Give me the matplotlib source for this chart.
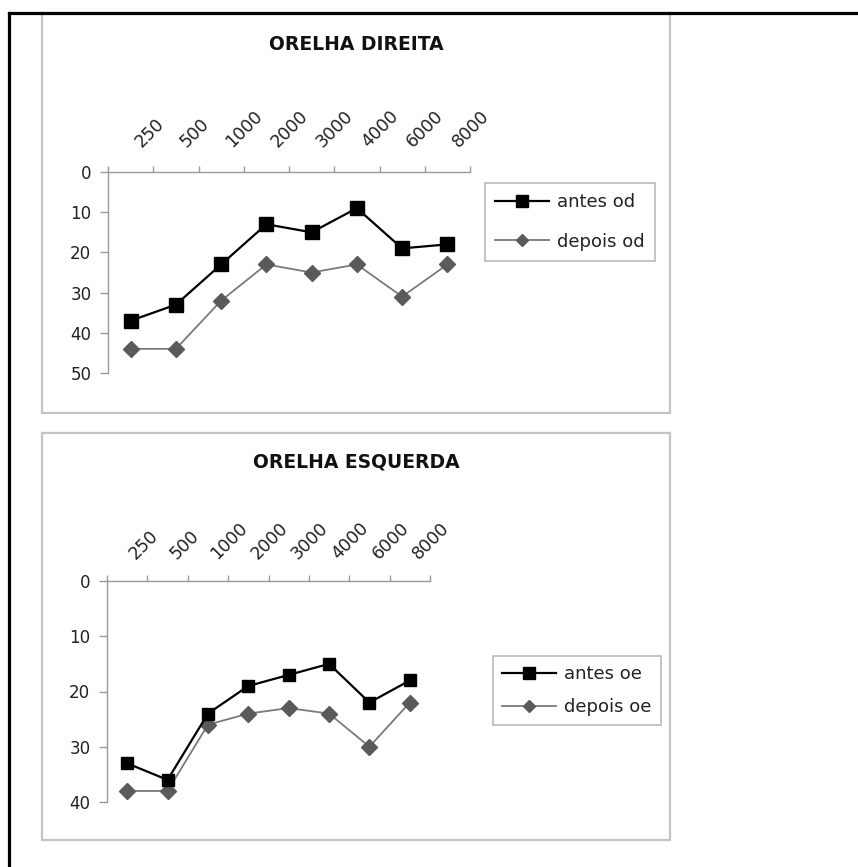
import matplotlib
matplotlib.use('Agg')
import matplotlib.pyplot as plt
from matplotlib.lines import Line2D
from matplotlib.patches import Rectangle
import matplotlib.transforms as mtransforms

plt.rcParams['font.family'] = ['DejaVu Sans']

# ---- data ----
freqs = ['250', '500', '1000', '2000', '3000', '4000', '6000', '8000']
antes_od = [37, 33, 23, 13, 15, 9, 19, 18]
depois_od = [44, 44, 32, 23, 25, 23, 31, 23]
antes_oe = [33, 36, 24, 19, 17, 15, 22, 18]
depois_oe = [38, 38, 26, 24, 23, 24, 30, 22]
yticks_od = [0, 10, 20, 30, 40, 50]
yticks_oe = [0, 10, 20, 30, 40]

W, H = 858, 867
fig = plt.figure(figsize=(W / 100, H / 100), dpi=100)


def fx(px):
    return px / W


def fy(py):
    return 1 - py / H


AX_GRAY = '#9a9a9a'
DEP_LINE = '#7a7a7a'
DEP_MARK = '#5a5a5a'

# panels
for (x0, y0, x1, y1) in [(42, 13, 670, 413), (42, 433, 670, 840)]:
    fig.add_artist(Rectangle((fx(x0), fy(y1)), fx(x1) - fx(x0), fy(y0) - fy(y1),
                             transform=fig.transFigure, fill=False,
                             edgecolor='#c4c4c4', lw=1.6, zorder=1))

# outer black border (top & left)
fig.add_artist(Line2D([fx(9), 1], [fy(13), fy(13)], color='black', lw=2.3,
                      transform=fig.transFigure, zorder=5))
fig.add_artist(Line2D([fx(9), fx(9)], [fy(13), 0], color='black', lw=2.3,
                      transform=fig.transFigure, zorder=5))


def panel(box, ymax, yticks, antes, depois, title, title_y, lab_a, lab_d,
          lbl_off, leg_xy, leg_spacing, msq, mdi, bpad):
    x0, y0, x1, y1 = box
    ax = fig.add_axes([fx(x0), fy(y1), fx(x1) - fx(x0), fy(y0) - fy(y1)])
    x = list(range(len(freqs)))
    ax.plot(x, depois, color=DEP_LINE, lw=1.3, marker='D', ms=mdi,
            mfc=DEP_MARK, mec=DEP_MARK, zorder=3)
    ax.plot(x, antes, color='black', lw=1.6, marker='s', ms=msq,
            mfc='black', mec='black', zorder=4)
    ax.set_xlim(-0.5, len(freqs) - 0.5)
    ax.set_ylim(ymax, 0)
    for s in ['right', 'bottom']:
        ax.spines[s].set_visible(False)
    for s in ['top', 'left']:
        ax.spines[s].set_color(AX_GRAY)
        ax.spines[s].set_linewidth(1.0)
    ax.xaxis.tick_top()
    ax.set_xticks([])
    ax.set_xticks([i - 0.5 for i in range(len(freqs) + 1)], minor=True)
    ax.tick_params(axis='x', which='minor', direction='out', length=4,
                   color=AX_GRAY, width=1.0, top=True, bottom=False)
    ax.set_yticks(yticks)
    ax.set_yticklabels([str(t) for t in yticks])
    ax.tick_params(axis='y', direction='out', length=6, color=AX_GRAY,
                   width=1.0, pad=6, labelsize=12, labelcolor='#222222')
    off = mtransforms.ScaledTranslation(lbl_off[0] / 100, lbl_off[1] / 100,
                                        fig.dpi_scale_trans)
    for i, lab in enumerate(freqs):
        ax.text(i, 0, lab, transform=ax.transData + off, rotation=45,
                rotation_mode='anchor', ha='left', va='baseline',
                fontsize=12.5, color='#222222', clip_on=False)
    fig.text(fx(356), fy(title_y), title, ha='center', va='center',
             fontsize=13.5, fontweight='bold', color='#111111')
    h_a = Line2D([], [], color='black', lw=1.6, marker='s', ms=msq - 0.5,
                 mfc='black', mec='black')
    h_d = Line2D([], [], color=DEP_LINE, lw=1.3, marker='D', ms=mdi - 2.5,
                 mfc=DEP_MARK, mec=DEP_MARK)
    leg = fig.legend([h_a, h_d], [lab_a, lab_d], loc='upper left',
                     bbox_to_anchor=(fx(leg_xy[0]), fy(leg_xy[1])),
                     fontsize=13, frameon=True, fancybox=False, shadow=False,
                     edgecolor='#a8a8a8', handlelength=3.0, handletextpad=0.45,
                     labelspacing=leg_spacing, borderpad=bpad,
                     borderaxespad=0)
    leg.get_frame().set_linewidth(1.2)
    for t in leg.get_texts():
        t.set_color('#222222')
    return ax


panel((108, 172, 470, 373), 50, yticks_od, antes_od, depois_od,
      'ORELHA DIREITA', 45, 'antes od', 'depois od', (11, 24),
      (485, 183), 1.2, 9.4, 8.5, 0.55)
panel((107, 581, 430, 802), 40, yticks_oe, antes_oe, depois_oe,
      'ORELHA ESQUERDA', 462, 'antes oe', 'depois oe', (9, 21),
      (493, 656), 0.85, 8.8, 8.3, 0.5)

fig.savefig('out.png', dpi=100)
